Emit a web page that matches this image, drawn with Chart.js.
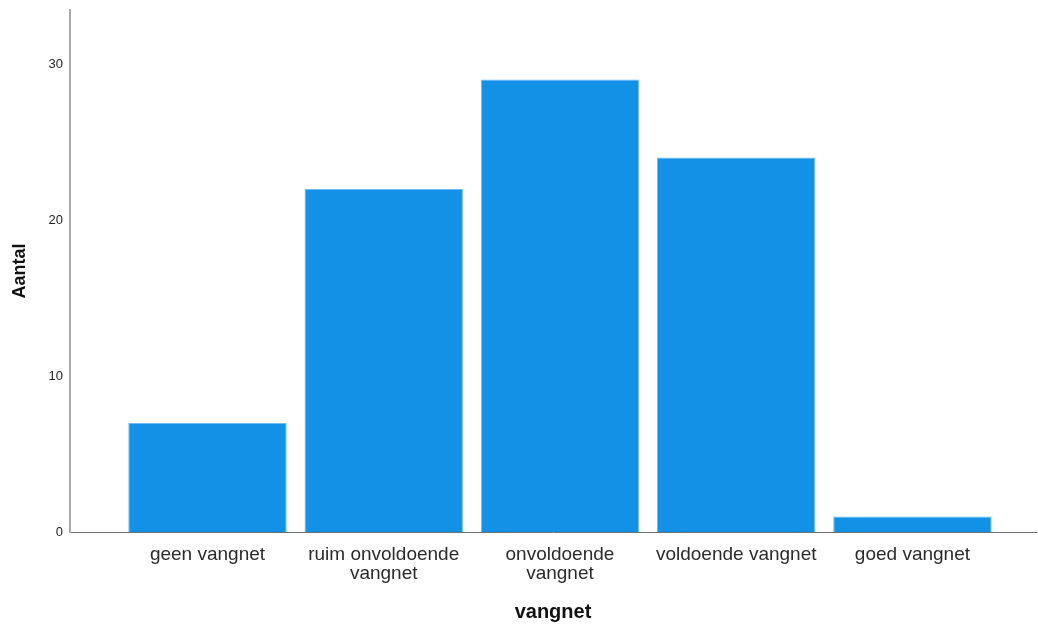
<!DOCTYPE html>
<html>
<head>
<meta charset="utf-8">
<script src="https://cdn.jsdelivr.net/npm/chart.js@4/dist/chart.umd.min.js"></script>
<style>
  html, body { margin: 0; padding: 0; background: #ffffff; }
  #wrap { width: 1038px; height: 624px; position: relative; }
</style>
</head>
<body>
<div id="wrap"><canvas id="c"></canvas></div>
<script>
// ---- data ----
const categories = ["geen vangnet", "ruim onvoldoende vangnet", "onvoldoende vangnet", "voldoende vangnet", "goed vangnet"];
const categoryLines = [["geen vangnet"], ["ruim onvoldoende", "vangnet"], ["onvoldoende", "vangnet"], ["voldoende vangnet"], ["goed vangnet"]];
const counts = [7, 22, 29, 24, 1];
const yTicks = [0, 10, 20, 30];
const xTitle = "vangnet";
const yTitle = "Aantal";

const points = counts.map((v, i) => ({ x: i, y: v }));

new Chart(document.getElementById('c'), {
  type: 'bar',
  data: {
    datasets: [{
      label: yTitle,
      data: points,
      backgroundColor: '#1391e6',
      borderColor: '#72bdf0',
      borderWidth: 1,
      borderSkipped: 'bottom',
      barPercentage: 0.899,
      categoryPercentage: 1.0
    }]
  },
  options: {
    responsive: true,
    maintainAspectRatio: false,
    animation: false,
    layout: { padding: { top: 10, right: 2, left: 0, bottom: 0 } },
    plugins: { legend: { display: false }, tooltip: { enabled: false } },
    scales: {
      x: {
        type: 'linear',
        offset: false,
        min: -0.78,
        max: 4.701,
        afterBuildTicks: (s) => { s.ticks = categories.map((c, i) => ({ value: i })); },
        afterFit: (s) => { s.height = 92; s.paddingLeft = 0; s.paddingRight = 0; },
        grid: { display: false, drawTicks: false },
        border: { display: true, color: '#6f6f6f', width: 1 },
        ticks: {
          autoSkip: false,
          maxRotation: 0,
          padding: 13,
          color: '#2b2b2b',
          font: { family: '"Liberation Sans", Arial, sans-serif', size: 19, lineHeight: 1.0 },
          callback: (v) => categoryLines[v] || ''
        },
        title: {
          display: true,
          text: xTitle,
          color: '#111111',
          padding: { top: 0, bottom: 0 },
          font: { family: '"Liberation Sans", Arial, sans-serif', size: 20, weight: 'bold', lineHeight: 1.2 }
        }
      },
      y: {
        min: 0,
        max: 33.46,
        afterBuildTicks: (s) => { s.ticks = yTicks.map(v => ({ value: v })); },
        afterFit: (s) => { s.width = 70; s.paddingTop = 0; s.paddingBottom = 0; },
        grid: { display: false, drawTicks: false },
        border: { display: true, color: '#a8a8a8', width: 2 },
        ticks: {
          padding: 7,
          color: '#222222',
          font: { family: '"Liberation Sans", Arial, sans-serif', size: 13 }
        },
        title: {
          display: true,
          text: yTitle,
          color: '#111111',
          padding: { top: 9, bottom: 0 },
          font: { family: '"Liberation Sans", Arial, sans-serif', size: 18, weight: 'bold', lineHeight: 1.2 }
        }
      }
    }
  }
});
</script>
</body>
</html>
